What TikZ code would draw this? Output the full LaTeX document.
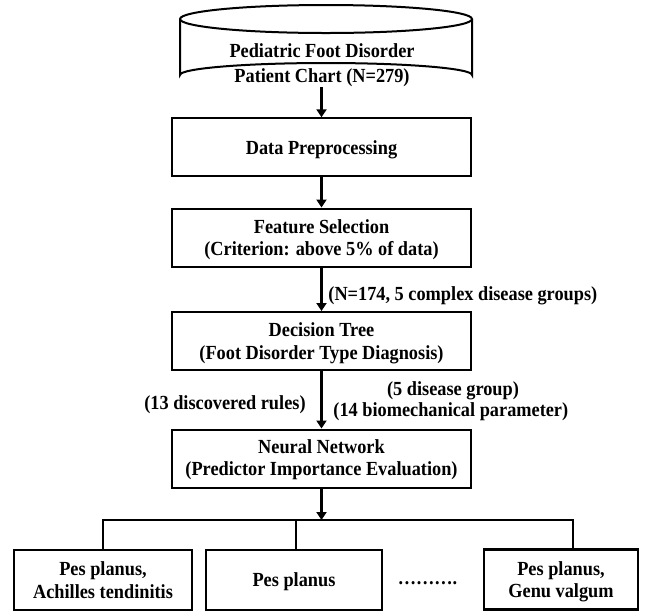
\documentclass[tikz,border=0pt]{standalone}
\usepackage{fontspec}
\setmainfont{Liberation Serif}[FakeStretch=0.915]
\usetikzlibrary{arrows.meta}
\begin{document}
\begin{tikzpicture}[x=0.5pt,y=-0.5pt,
  every node/.style={font=\bfseries\fontsize{10pt}{11.2pt}\selectfont, align=center, inner sep=0pt},
  stepbox/.style={draw, line width=1pt, minimum width=149.5pt, minimum height=29pt},
  leafbox/.style={draw, line width=1pt, minimum height=30pt, text depth=-4.3pt},
  flow/.style={line width=1.35pt, -{Triangle[length=4pt,width=5pt]}},
  bus/.style={line width=0.85pt}]
\useasboundingbox (0,0) rectangle (662,612);
% cylinder
\draw[line width=1pt] (180,19) -- (180,75) arc[start angle=180, end angle=360, x radius=146, y radius=12] -- (472,19);
\draw[line width=1pt] (326,19) ellipse[x radius=146, y radius=14];
\node[font=\bfseries\fontsize{10pt}{12.8pt}\selectfont, text depth=2pt] (cyl) at (322,65) {Pediatric Foot Disorder\\Patient Chart (N=279)};
\coordinate (cylb) at (321.5,87);
% steps
\node[stepbox, text depth=-0.9pt] (pre) at (321.5,147.3) {Data Preprocessing};
\node[stepbox, text depth=-2.8pt] (feat) at (321.5,237.5) {Feature Selection\\(Criterion: above 5\% of data)};
\node[stepbox, text depth=-0.3pt] (dt) at (321.5,341) {Decision Tree\\(Foot Disorder Type Diagnosis)};
\node[stepbox, text depth=0.8pt] (nn) at (321.5,458.5) {Neural Network\\(Predictor Importance Evaluation)};
\draw[flow] (cylb) -- (pre.north);
\draw[flow] (pre) -- (feat);
\draw[flow] (feat) -- (dt);
\draw[flow] (dt) -- (nn);
% labels
\node[anchor=base west] (l1) at (328,300) {(N=174, 5 complex disease groups)};
\node[anchor=base] (l2) at (453,395) {(5 disease group)};
\node[anchor=base west] (l3) at (333,416.7) {(14 biomechanical parameter)};
\node[anchor=base east] (l4) at (306,409) {(13 discovered rules)};
% leaves
\node[leafbox, minimum width=89pt] (b1) at (103,580) {Pes planus,\\Achilles tendinitis};
\node[leafbox, minimum width=88pt] (b2) at (294,580) {Pes planus};
\node[leafbox, minimum width=77pt, line width=1.3pt] (b3) at (561,579.5) {Pes planus,\\Genu valgum};
\node[anchor=base] (dots) at (427.5,584) {……….};
\coordinate (hub) at (321.5,520);
\draw[flow] (nn) -- (hub);
\draw[bus] (b1.north) |- ([xshift=6pt]b3.north |- hub) -- ([xshift=6pt]b3.north);
\draw[bus] ([xshift=1pt]b2.north) -- ([xshift=1pt]b2.north |- hub);
\end{tikzpicture}
\end{document}
